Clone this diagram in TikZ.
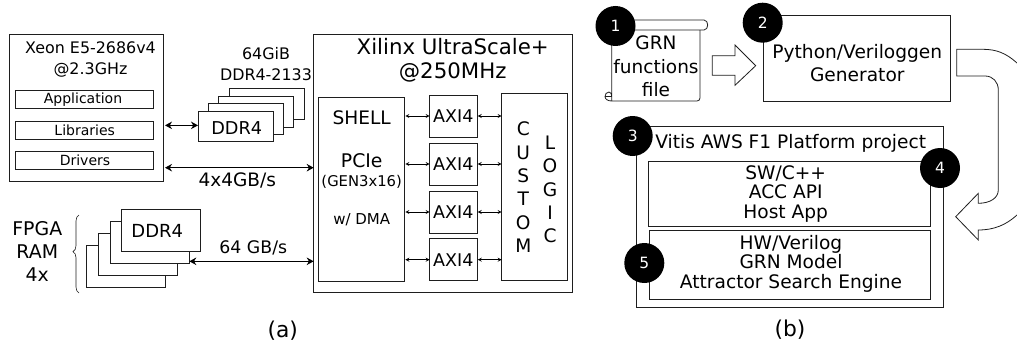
\documentclass[tikz,border=0pt]{standalone}
\usepackage{fontspec}
\setmainfont{DejaVu Sans}
\usetikzlibrary{decorations.pathreplacing,arrows.meta}
\tikzstyle{panel} = [x = 1pt, y = -1pt, >=stealth]
\definecolor{lineColor}{RGB}{30,30,30}
\tikzstyle{blockStyle} = [draw=lineColor, fill=white, line width=.8pt, inner sep=0pt, outer sep=0pt]
\tikzstyle{blockText} = [inner sep=0pt, align=center, text=black]
\tikzstyle{badgeStyle} = [circle, fill=black, text=white, minimum size=40pt, inner sep=0pt, font=\fontsize{15.5}{16}\selectfont]
\tikzstyle{busLine} = [{Stealth[length=7pt,width=7.5pt]}-{Stealth[length=7pt,width=7.5pt]}, line width=1.2pt]
\tikzstyle{axiLine} = [<->, line width=.8pt]
\tikzstyle{hollowArrow} = [draw=lineColor, line width=.8pt, fill=white, line join=miter]
\newcommand{\block}[6]{\node [blockStyle, minimum width={((#4)-(#2))*1pt}, minimum height={((#5)-(#3))*1pt}] (#1) at ({((#2)+(#4))/2},{((#3)+(#5))/2}) {#6};}
\newcommand{\blockLabel}[5]{\node [blockText, font=\fontsize{#4}{#5}\selectfont] (#1) at (#2) {#3};}
\begin{document}
\begin{tikzpicture}[panel]
  \useasboundingbox (0,0) rectangle (1017,345);
  % host
  \block{host}{9}{34.3}{163}{181.3}{}
  \blockLabel{hostText}{90.5,59}{Xeon E5-2686v4\\@2.3GHz}{15.9}{21}
  \block{application}{15.3}{90.7}{153.7}{108.7}{}
  \block{libraries}{15.3}{121.3}{153.7}{139.3}{}
  \block{drivers}{15.3}{151.7}{153.7}{169.7}{}
  \blockLabel{applicationText}{83,99.5}{Application}{14}{14}
  \blockLabel{librariesText}{84.7,130}{Libraries}{14}{14}
  \blockLabel{driversText}{85,160.5}{Drivers}{14}{14}
  % host memory
  \foreach \depth/\name in {3/hostRamD,2/hostRamC,1/hostRamB} {
    \pgfmathsetmacro{\dx}{10.2 * \depth}
    \pgfmathsetmacro{\dy}{7.4 * \depth}
    \block{\name}{198.3 + \dx}{111 - \dy}{273.3 + \dx}{141.7 - \dy}{}
  }
  \block{hostRamA}{198.3}{111}{273.3}{141.7}{}
  \blockLabel{hostRamText}{236.7,128.3}{DDR4}{17.7}{17.7}
  \blockLabel{hostRamSize}{266,64.5}{64GiB\\DDR4-2133}{15.9}{21}
  % fpga memory
  \foreach \depth/\name in {3/fpgaRamD,2/fpgaRamC,1/fpgaRamB} {
    \pgfmathsetmacro{\dx}{11.7 * \depth}
    \pgfmathsetmacro{\dy}{12 * \depth}
    \block{\name}{121.7 - \dx}{209.3 + \dy}{200.7 - \dx}{251.3 + \dy}{}
  }
  \block{fpgaRamA}{121.7}{209.3}{200.7}{251.3}{}
  \blockLabel{fpgaRamText}{157.3,230.7}{DDR4}{18}{18}
  \blockLabel{fpgaRamSize}{37.3,251.7}{FPGA\\RAM\\4x}{18.9}{23}
  \coordinate (braceEnd) at (79,293);
  \coordinate (braceStart) at (79,215);
  \draw [decorate, decoration={brace, amplitude=6pt, aspect=.53}, line width=.6pt, draw=lineColor] (braceEnd) -- (braceStart);
  % fpga
  \block{fpga}{313.7}{34}{572.3}{292}{}
  \blockLabel{fpgaText}{452.7,60}{Xilinx UltraScale+\\@250MHz}{21.3}{24}
  \block{shell}{318}{97}{404.3}{281}{}
  \blockLabel{shellText}{361.7,117.3}{SHELL}{18.6}{18.6}
  \blockLabel{pcieText}{361.7,161}{PCIe}{18.8}{18.8}
  \blockLabel{genText}{361.7,182}{(GEN3x16)}{14.8}{14.8}
  \blockLabel{dmaText}{361.7,220}{w/ DMA}{15}{15}
  \block{custom}{501.7}{93.3}{567.3}{280}{}
  \blockLabel{customText}{523.3,187.3}{C\\U\\S\\T\\O\\M}{18.6}{23.33}
  \blockLabel{logicText}{550,189.5}{L\\O\\G\\I\\C}{18.6}{23.25}
  \foreach \row/\axiTop in {A/95,B/143,C/191,D/238.7} {
    \pgfmathsetmacro{\axiBottom}{\axiTop + 42}
    \block{axi\row}{429.7}{\axiTop}{477}{\axiBottom}{\fontsize{17.5}{17.5}\selectfont AXI4}
    \draw [axiLine] (shell.east |- axi\row.west) ++(1,0) -- (axi\row.west);
    \draw [axiLine] (axi\row.east) ++(.7,0) -- (custom.west |- axi\row.east);
  }
  % buses
  \coordinate (hostRamBus) at (host.east |- hostRamA.west);
  \coordinate (hostBus) at (165,167.7);
  \coordinate (fpgaRamBus) at (189.3,261.3);
  \draw [busLine] (hostRamBus) ++(2,-1) -- ++(33,0);
  \draw [busLine] (hostBus) -- (fpga.west |- hostBus);
  \draw [busLine] (fpgaRamBus) -- (fpga.west |- fpgaRamBus);
  \blockLabel{hostBusText}{237.3,180}{4x4GB/s}{18.5}{18.5}
  \blockLabel{fpgaBusText}{253.3,248.3}{64 GB/s}{17.3}{17.3}
  \blockLabel{captionA}{282.7,330.5}{(a)}{21.8}{21.8}
  % flow
  \draw [hollowArrow] (700,30) -- (700,98) to[out=-90,in=0] (697,101) -- (611.7,101) to[out=180,in=-90] (605,96.5) to[out=90,in=180] (609,92) to[out=0,in=90] (611.7,96.5) (611.7,96.5) -- (605.5,96.5) (611.7,101) -- (611.7,25);
  \draw [hollowArrow] (615,20) -- (704,20) to[out=0,in=90] (707.7,25) to[out=-90,in=0] (704,30) -- (615,30);
  \blockLabel{scrollText}{656,66.5}{GRN\\functions\\file}{18.5}{23.3}
  \draw [hollowArrow] (712.3,55.7) -- (735,55.7) -- (735,45) -- (755.7,65.7) -- (735,85.3) -- (735,75.3) -- (712.3,75.3) -- cycle;
  \block{generator}{763.3}{15.3}{950.3}{101.3}{}
  \blockLabel{generatorText}{857.3,63}{Python/Veriloggen\\Generator}{18.6}{22.5}
  \draw [hollowArrow] (1017,63) .. controls (1006,53) and (996,49.3) .. (983,49.3) -- (956.7,49.3) -- (956.7,76) -- (985,76) .. controls (993,76) and (998.3,82) .. (998.3,90) -- (998.3,190) .. controls (998.3,198) and (990,203.3) .. (978.3,203.3) -- (978.3,193.3) -- (955.7,216.7) -- (978.3,240) -- (978.3,230) .. controls (994,230) and (1006,225) .. (1017,215);
  \block{vitis}{636.3}{126}{943.3}{307}{}
  \blockLabel{vitisText}{790.7,143.3}{Vitis AWS F1 Platform project}{18.6}{18.6}
  \block{software}{648.7}{161.3}{930}{226}{}
  \blockLabel{softwareText}{785.7,194}{SW/C++\\ACC API\\Host App}{18.6}{19.7}
  \block{hardware}{649.3}{230.7}{930.7}{299}{}
  \blockLabel{hardwareText}{791,263.7}{HW/Verilog\\GRN Model\\Attractor Search Engine}{18.6}{19.5}
  \blockLabel{captionB}{790,330}{(b)}{21.8}{21.8}
  % steps
  \foreach \step/\where in {1/{615.5,26},2/{762.7,22.7},3/{632.7,136},4/{940,168},5/{644.3,263}} {
    \node [badgeStyle] (badge\step) at (\where) {\step};
  }
\end{tikzpicture}
\end{document}
